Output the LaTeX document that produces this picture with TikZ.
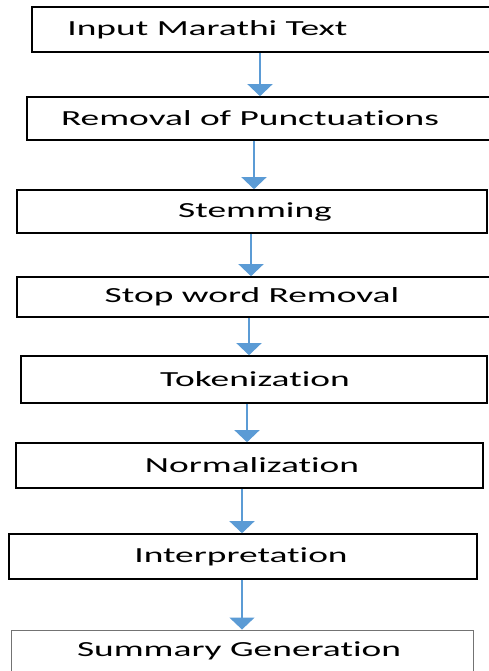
\documentclass[tikz,border=0pt]{standalone}
\usepackage{fontspec}
\setmainfont[FakeStretch=1.74,Ligatures=NoCommon]{Carlito}
\usepackage{tikz}
\usetikzlibrary{positioning}
\usetikzlibrary{arrows.meta}
\usepackage{xcolor}

\definecolor{flowblue}{RGB}{91,155,213}

\tikzset{
  stage/.style={draw=black, line width=1.6pt, rectangle, inner sep=0pt},
  laststage/.style={draw=black!55, line width=0.9pt, rectangle, inner sep=0pt},
  flow/.style={flowblue, line width=1.2pt, -{Triangle[length=12pt,width=25pt]}, shorten >=0pt}
}

\begin{document}
\begin{tikzpicture}[x=1pt,y=-1pt,font=\fontsize{21.5}{25}\selectfont]
\useasboundingbox (0,0) rectangle (488,671);

%boxes
\node[stage, minimum width=463pt, minimum height=45pt,
  label={[xshift=-56pt]center:Input Marathi Text}] (inp) at (263.5,29.5) {};
\node[stage, minimum width=468pt, minimum height=43pt,
  label={[xshift=-11pt]center:Removal of Punctuations}] (punc) at (261,118.5) {};
\node[stage, minimum width=470pt, minimum height=43pt,
  label={[xshift=3pt]center:Stemming}] (stem) at (252,211.5) {};
\node[stage, minimum width=478pt, minimum height=40pt,
  label={[xshift=-4pt]center:Stop word Removal}] (stop) at (256,297) {};
\node[stage, minimum width=466pt, minimum height=47pt,
  label={[xshift=1pt]center:Tokenization}] (tok) at (254,379.5) {};
\node[stage, minimum width=467pt, minimum height=45pt,
  label={[xshift=2.5pt]center:Normalization}] (norm) at (249.5,465.5) {};
\node[stage, minimum width=468pt, minimum height=45pt,
  label={[xshift=-2pt]center:Interpretation}] (interp) at (243,556.5) {};
\node[laststage, minimum width=462pt, minimum height=50pt,
  label={[xshift=-3pt,yshift=4pt]center:Summary Generation}] (summ) at (242,655) {};

%arrows
\draw[flow] (inp.south -| 260,0) -- (punc.north -| 260,0);
\draw[flow] (punc.south -| 254,0) -- (stem.north -| 254,0);
\draw[flow] (stem.south -| 251,0) -- (stop.north -| 251,0);
\draw[flow] (stop.south -| 249,0) -- (tok.north -| 249,0);
\draw[flow] (tok.south -| 247,0) -- (norm.north -| 247,0);
\draw[flow] (norm.south -| 242,0) -- (interp.north -| 242,0);
\draw[flow] (interp.south -| 242,0) -- (summ.north -| 242,0);

\end{tikzpicture}
\end{document}
